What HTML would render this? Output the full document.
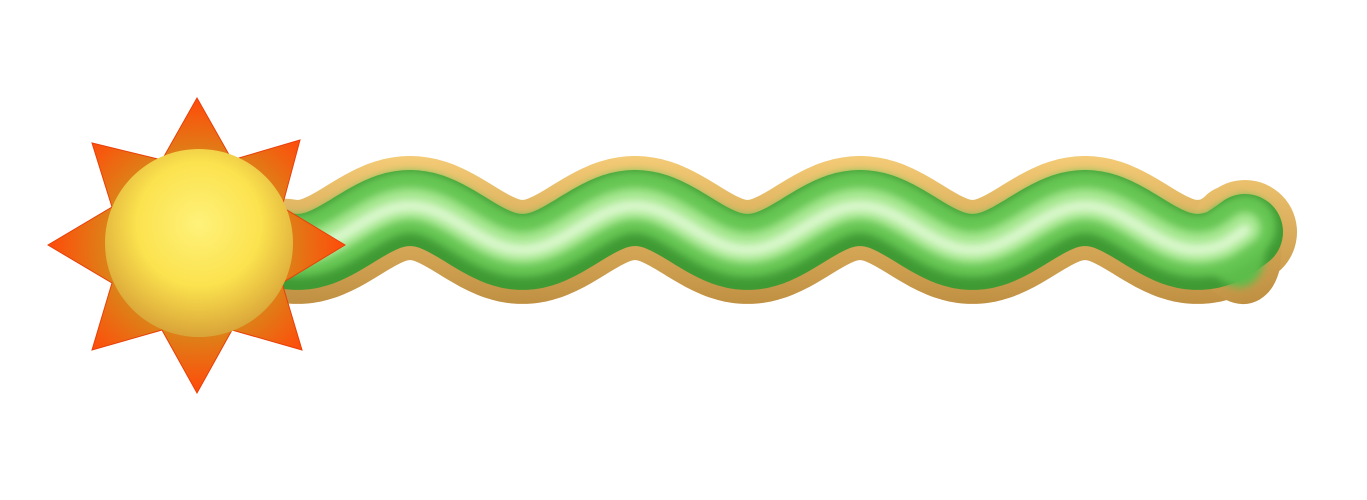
<!DOCTYPE html>
<html><head><meta charset="utf-8"><style>
html,body{margin:0;padding:0;background:#fff;width:1367px;height:500px;overflow:hidden}
</style></head><body>
<svg width="1367" height="500" viewBox="0 0 1367 500" xmlns="http://www.w3.org/2000/svg">
<defs>
<radialGradient id="sunG" cx="0.5" cy="0.4" r="0.6">
<stop offset="0" stop-color="#fff27a"/><stop offset="0.55" stop-color="#fbe24e"/><stop offset="1" stop-color="#d9a338"/>
</radialGradient>
<radialGradient id="rayG" cx="0.5" cy="0.5" r="0.5">
<stop offset="0.55" stop-color="#d88a1a"/><stop offset="1" stop-color="#ff4a0a"/>
</radialGradient>
<linearGradient id="tanG" gradientUnits="userSpaceOnUse" x1="0" y1="150" x2="0" y2="310">
<stop offset="0" stop-color="#f6cd78"/><stop offset="1" stop-color="#be8e40"/>
</linearGradient>
<filter id="blur" filterUnits="userSpaceOnUse" x="0" y="0" width="1367" height="500"><feGaussianBlur stdDeviation="4"/></filter>
</defs>
<g id="wave"></g>
<polygon fill="url(#rayG)" stroke="#e8400a" stroke-width="1"
points="197,98 232,160 300,140 282,207 345,245 282,283 302,350 232,330 197,393 162,330 92,350 112,283 48,245 112,207 92,143 162,160"/>
<circle cx="199" cy="243" r="94" fill="url(#sunG)"/>
</svg>
<script>
const g=document.getElementById('wave');
function y(x){return 230-22*Math.cos(2*Math.PI*(x-410)/225);}
let d='M285,'+y(285).toFixed(1);
for(let x=290;x<=1225;x+=5){d+=' L'+x+','+y(x).toFixed(1);}
d+=' Q1240,236 1245,232';
const NS='http://www.w3.org/2000/svg';
function add(w,c,name,op,dy,blur){
 const p=document.createElementNS(NS,'path');
 p.setAttribute('d',d);p.setAttribute('fill','none');p.setAttribute('stroke',c);
 p.setAttribute('stroke-width',w);p.setAttribute('stroke-linecap','round');p.setAttribute('stroke-linejoin','round');
 if(op)p.setAttribute('opacity',op);
 if(dy)p.setAttribute('transform','translate(0,'+dy+')');
 if(blur)p.setAttribute('filter','url(#blur)');
 
 
 g.appendChild(p);
}
function ell(cx,cy,rx,ry,fill,name,blur){
 const e=document.createElementNS(NS,'ellipse');
 e.setAttribute('cx',cx);e.setAttribute('cy',cy);e.setAttribute('rx',rx);e.setAttribute('ry',ry);
 e.setAttribute('fill',fill);e.setAttribute('transform','rotate(-15 '+cx+' '+cy+')');
 if(blur)e.setAttribute('filter','url(#blur)');
 
 
 g.appendChild(e);
}
add(104,'url(#tanG)','tube-border');
ell(1236,245,44,60,'url(#tanG)','tube-end-border');
add(76,'#3f9a34','tube-green-dark');
ell(1234,246,30,42,'#5dbd4c','tube-end-green',true);
add(62,'#66c653','tube-green',null,-6,true);
add(32,'#a8e892','tube-mid',0.95,-4,true);
add(12,'#e4fbd8','tube-highlight',0.85,-2,true);
</script>
</body></html>
